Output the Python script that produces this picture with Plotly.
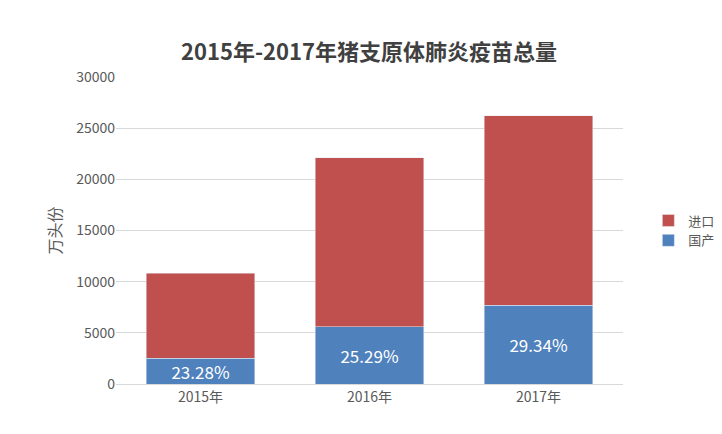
import plotly.graph_objects as go

years = ["2015年", "2016年", "2017年"]
domestic = [2514, 5589, 7687]
imported = [8286, 16511, 18513]
pct_labels = ["23.28%", "25.29%", "29.34%"]

fig = go.Figure()
fig.add_bar(x=years, y=domestic, name="国产", marker_color="#4F81BD",
            text=pct_labels, textposition="inside", insidetextanchor="middle",
            textfont=dict(color="white", size=17), cliponaxis=False)
fig.add_bar(x=years, y=imported, name="进口", marker_color="#C0504D")
fig.update_layout(
    barmode="stack", bargap=0.36,
    width=722, height=434,
    uniformtext=dict(minsize=17, mode="show"),
    paper_bgcolor="white", plot_bgcolor="white",
    font=dict(family="Noto Sans CJK SC", color="#595959", size=13),
    title=dict(text="<b>2015年-2017年猪支原体肺炎疫苗总量</b>", x=0.5, y=0.915,
               xanchor="center", font=dict(size=22, color="#404040")),
    margin=dict(l=108, r=107, t=69, b=58, autoexpand=False),
    legend=dict(x=1.05, y=0.5, xanchor="left", yanchor="middle", traceorder="reversed",
                font=dict(size=13)),
    showlegend=True,
)
fig.update_yaxes(range=[0, 30000], dtick=5000, tickformat="d", gridcolor="#D9D9D9", zeroline=False,
                 title=dict(text="万头份", standoff=10), tickfont=dict(size=14))
fig.update_xaxes(showline=True, linecolor="#D9D9D9", tickfont=dict(size=14))
fig.write_html("out.html")
